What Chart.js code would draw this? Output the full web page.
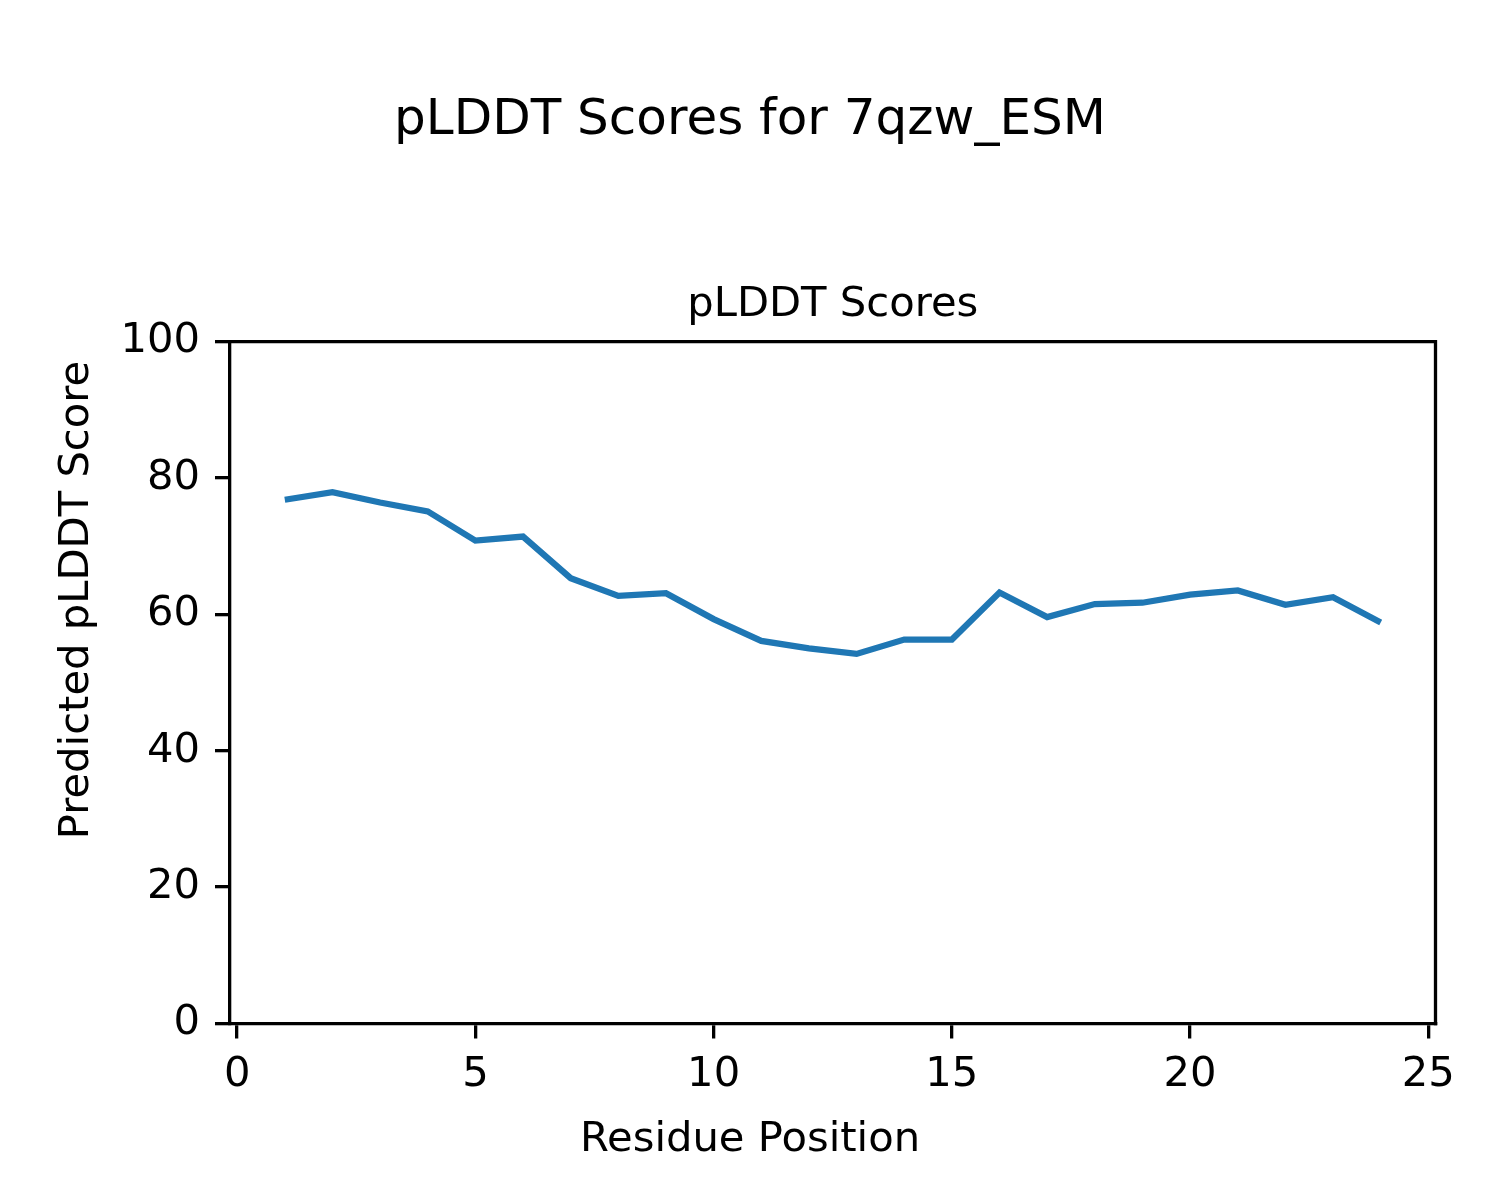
<!DOCTYPE html>
<html>
<head>
<meta charset="utf-8">
<script src="https://cdn.jsdelivr.net/npm/chart.js@4/dist/chart.umd.min.js"></script>
<style>
html,body{margin:0;padding:0;background:#fff;}
canvas{display:block;}
</style>
</head>
<body>
<canvas id="c" width="1500" height="1200"></canvas>
<script>
const residues = [1,2,3,4,5,6,7,8,9,10,11,12,13,14,15,16,17,18,19,20,21,22,23,24];
const plddtScores = [76.8,77.9,76.4,75.1,70.8,71.4,65.3,62.7,63.1,59.3,56.1,55.0,54.2,56.3,56.3,63.2,59.6,61.5,61.7,62.9,63.5,61.4,62.5,58.8];
const xTickValues = [0,5,10,15,20,25];
const yTickValues = [0,20,40,60,80,100];
const figureTitle = 'pLDDT Scores for 7qzw_ESM';
const axesTitle = 'pLDDT Scores';
const xLabel = 'Residue Position';
const yLabel = 'Predicted pLDDT Score';

const FONT = 'DejaVu Sans';
const TICK_PX = 41.7;
const LW = 3.3;

const framePlugin = {
  id: 'frame',
  afterDatasetsDraw(chart) {
    const {ctx, chartArea: a} = chart;
    ctx.save();
    ctx.strokeStyle = '#000';
    ctx.lineWidth = LW;
    ctx.lineCap = 'square';
    ctx.beginPath();
    ctx.moveTo(a.left, a.top);
    ctx.lineTo(a.right, a.top);
    ctx.lineTo(a.right, a.bottom);
    ctx.stroke();
    ctx.restore();
  }
};

const axisLabelPlugin = {
  id: 'axisLabels',
  afterDraw(chart) {
    const ctx = chart.ctx;
    ctx.save();
    ctx.fillStyle = '#000';
    ctx.font = TICK_PX + 'px "' + FONT + '"';
    ctx.textAlign = 'center';
    ctx.textBaseline = 'middle';
    ctx.fillText(xLabel, 750, 1140);
    ctx.translate(77, 600);
    ctx.rotate(-Math.PI / 2);
    ctx.fillText(yLabel, 0, 0);
    ctx.restore();
  }
};

new Chart(document.getElementById('c'), {
  type: 'line',
  data: {
    datasets: [{
      data: residues.map((r, i) => ({x: r, y: plddtScores[i]})),
      borderColor: '#1f77b4',
      borderWidth: 6.25,
      pointRadius: 0,
      tension: 0,
      fill: false
    }]
  },
  options: {
    responsive: false,
    animation: false,
    devicePixelRatio: 1,
    layout: {padding: {left: 0, right: 0, top: 0, bottom: 0}},
    plugins: {
      legend: {display: false},
      tooltip: {enabled: false},
      title: {
        display: true,
        text: figureTitle,
        color: '#000',
        font: {family: FONT, size: 50, weight: 'normal', lineHeight: 1.2},
        padding: {top: 91, bottom: 0}
      },
      subtitle: {
        display: true,
        fullSize: false,
        text: axesTitle,
        color: '#000',
        font: {family: FONT, size: TICK_PX, weight: 'normal', lineHeight: 1.2},
        padding: {top: 129, bottom: 11.5}
      }
    },
    scales: {
      x: {
        type: 'linear',
        min: -0.15,
        max: 25.15,
        afterFit(scale) { scale.height = 176.5; },
        afterBuildTicks(scale) { scale.ticks = xTickValues.map(v => ({value: v})); },
        ticks: {
          color: '#000',
          font: {family: FONT, size: TICK_PX},
          padding: 12,
          maxRotation: 0,
          autoSkip: false
        },
        grid: {display: true, drawOnChartArea: false, drawTicks: true, tickLength: 15, color: '#000', lineWidth: LW},
        border: {display: true, color: '#000', width: LW}
      },
      y: {
        type: 'linear',
        min: 0,
        max: 100,
        afterFit(scale) { scale.width = 230; },
        afterBuildTicks(scale) { scale.ticks = yTickValues.map(v => ({value: v})); },
        ticks: {
          color: '#000',
          font: {family: FONT, size: TICK_PX},
          padding: 15
        },
        grid: {display: true, drawOnChartArea: false, drawTicks: true, tickLength: 15, color: '#000', lineWidth: LW},
        border: {display: true, color: '#000', width: LW}
      },
      yRight: {
        type: 'linear',
        position: 'right',
        min: 0,
        max: 100,
        afterFit(scale) { scale.width = 64.5; },
        ticks: {display: false},
        grid: {display: false, drawTicks: false},
        border: {display: false}
      }
    }
  },
  plugins: [framePlugin, axisLabelPlugin]
});
</script>
</body>
</html>
